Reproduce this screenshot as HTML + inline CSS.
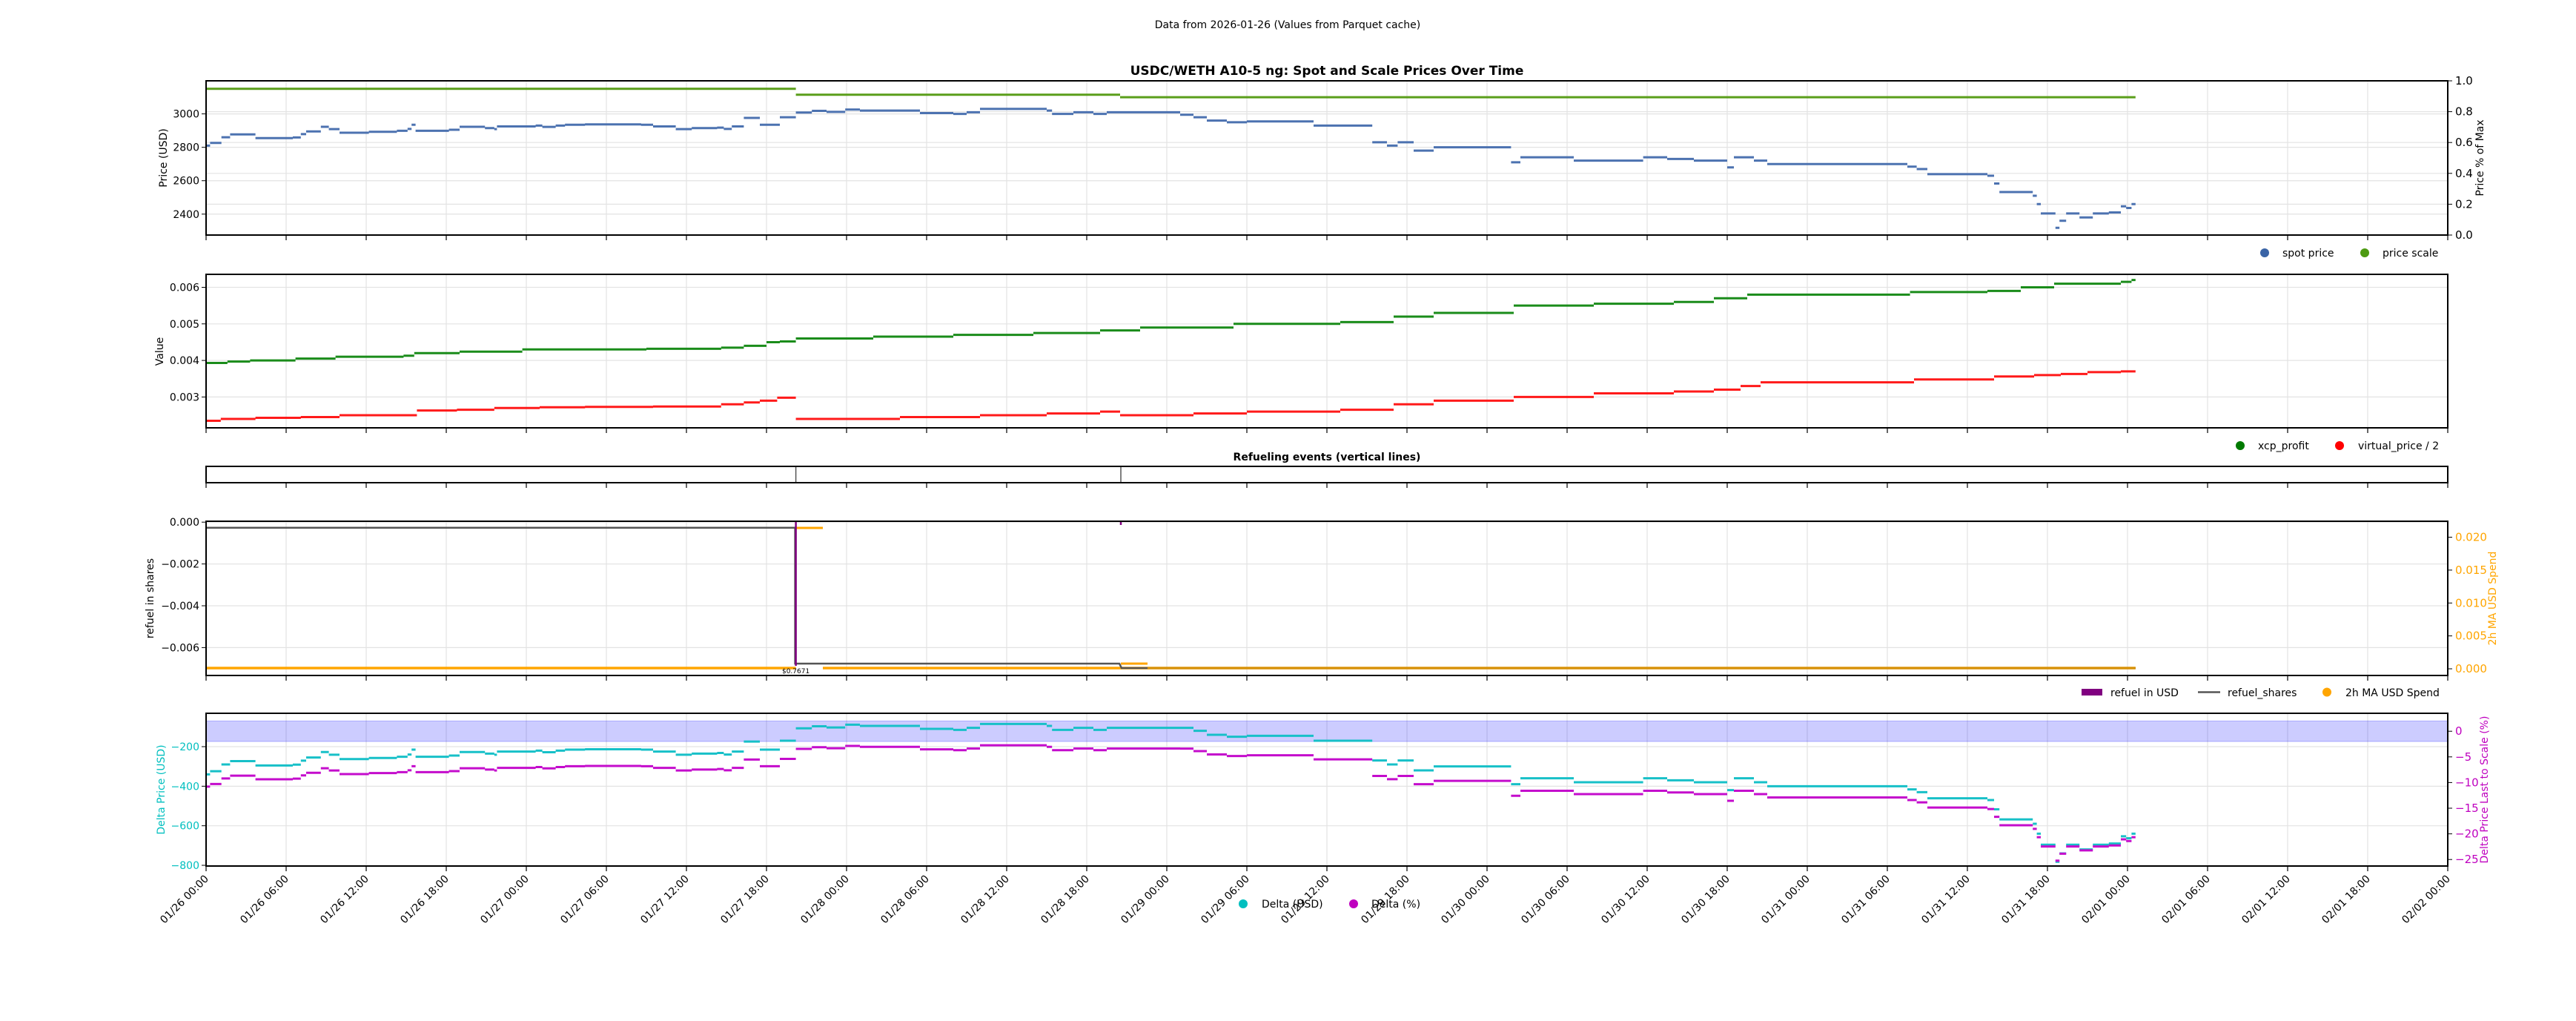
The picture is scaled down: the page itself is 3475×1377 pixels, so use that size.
<!DOCTYPE html>
<html><head><meta charset="utf-8">
<style>
html,body{margin:0;padding:0;background:#fff;}
svg{display:block;font-family:"DejaVu Sans","Liberation Sans",sans-serif;}
</style></head>
<body>
<svg id="s" width="3475" height="1377" viewBox="0 0 3475 1377" xmlns="http://www.w3.org/2000/svg">
<rect width="3475" height="1377" fill="#fff"/>
<text x="1737" y="38" font-size="14" text-anchor="middle">Data from 2026-01-26 (Values from Parquet cache)</text>
<text x="1790" y="101" font-size="17" font-weight="bold" text-anchor="middle">USDC/WETH A10-5 ng: Spot and Scale Prices Over Time</text>
<text x="1790" y="621" font-size="14" font-weight="bold" text-anchor="middle">Refueling events (vertical lines)</text>
<g id="g"></g>
</svg>
<script>
const NS="http://www.w3.org/2000/svg";
const G=document.getElementById('g');
function el(t,a,txt){const e=document.createElementNS(NS,t);for(const k in a)e.setAttribute(k,a[k]);if(txt!==undefined)e.textContent=txt;G.appendChild(e);return e;}
const L=278,R=3302;
const X=h=>L+h*18;
const panels=[[109,317],[370,577],[629,651],[703,911],[962,1168]];
panels.forEach(([t,b],i)=>{
  for(let k=1;k<28;k++){ if(i!==2) el('line',{x1:X(k*6),x2:X(k*6),y1:t,y2:b,stroke:'#e3e3e3','stroke-width':1.2});}
});
function hgrid(y){el('line',{x1:L,x2:R,y1:y,y2:y,stroke:'#e3e3e3','stroke-width':1.2});}
// horizontal segments only (marker-like), no vertical connectors
function step(data,fx,fy,end){let d='';for(let i=0;i<data.length;i++){const x0=fx(data[i][0]),x1=(i+1<data.length?fx(data[i+1][0]):fx(end)),y=fy(data[i][1]);d+=' M'+x0+' '+y+' H'+Math.max(x1,x0+2);}return d;}
// ---------- Panel 1
const yP=v=>153.6+(3000-v)*0.2253;
[3000,2800,2600,2400].forEach(v=>{hgrid(yP(v));el('line',{x1:L-6,x2:L,y1:yP(v),y2:yP(v),stroke:'#000'});el('text',{x:L-9,y:yP(v)+5,'font-size':14,'text-anchor':'end'},String(v));});
const yR1=f=>317-f*208;
[0,0.2,0.4,0.6,0.8,1.0].forEach(f=>{if(f>0&&f<1)hgrid(yR1(f));el('line',{x1:R,x2:R+6,y1:yR1(f),y2:yR1(f),stroke:'#000'});el('text',{x:R+10,y:yR1(f)+5,'font-size':15},f.toFixed(1));});
const spot=[[0,2810],[0.3,2826],[1.15,2860],[1.8,2877],[3.7,2855],[6.5,2859],[7.1,2879],[7.5,2895],[8.6,2923],[9.2,2909],[10,2887],[12.2,2893],[14.3,2899],[15.1,2910],[15.4,2935],[15.7,2899],[18.2,2905],[19,2923],[20.9,2915],[21.6,2909],[21.8,2925],[24.7,2930],[25.2,2922],[26.2,2930],[26.9,2935],[28.4,2937],[32.6,2935],[33.5,2925],[35.2,2909],[36.4,2915],[38.3,2918],[38.8,2910],[39.4,2925],[40.3,2976],[41.5,2935],[43,2980],[44.2,3008],[45.4,3018],[46.5,3012],[47.9,3026],[49,3020],[53.5,3005],[56,3000],[57,3010],[58,3030],[63,3020],[63.4,3000],[65,3010],[66.5,3000],[67.5,3010],[73,2995],[74,2980],[75,2960],[76.5,2950],[78,2955],[83,2930],[87.4,2830],[88.5,2810],[89.3,2830],[90.5,2780],[92,2800],[97.8,2710],[98.5,2740],[102.5,2720],[107.7,2740],[109.5,2730],[111.5,2720],[114,2680],[114.5,2740],[116,2720],[117,2700],[127.5,2684],[128.2,2670],[129,2639],[133.5,2630],[134,2583],[134.4,2532],[136.9,2510],[137.2,2460],[137.5,2404],[138.6,2318],[138.9,2360],[139.4,2404],[140.4,2380],[141.4,2404],[142.6,2410],[143.5,2447],[143.9,2437],[144.3,2460]];
const END=144.6;
el('path',{d:step(spot,X,yP,END),fill:'none',stroke:'#4c72b0','stroke-width':3});
function scaleAt(h){return h<44.2?3150:(h<68.5?3115:3100);}
el('path',{d:`M${L} ${yP(3150)} H${X(44.2)} M${X(44.2)} ${yP(3115)} H${X(68.5)} M${X(68.5)} ${yP(3100)} H${X(END)}`,stroke:'#5a9e1a','stroke-width':3,fill:'none'});
el('circle',{cx:3055,cy:341,r:6,fill:'#3a64a6'});el('text',{x:3079,y:346,'font-size':14},'spot price');
el('circle',{cx:3190,cy:341,r:6,fill:'#4d9a12'});el('text',{x:3214,y:346,'font-size':14},'price scale');
// ---------- Panel 2
const yV=v=>387.5+(0.006-v)*49300;
[0.006,0.005,0.004,0.003].forEach(v=>{hgrid(yV(v));el('line',{x1:L-6,x2:L,y1:yV(v),y2:yV(v),stroke:'#000'});el('text',{x:L-9,y:yV(v)+5,'font-size':14,'text-anchor':'end'},v.toFixed(3));});
const green=[[0,.00393],[1.6,.00397],[3.3,.0040],[6.7,.00405],[9.7,.0041],[14.8,.00413],[15.6,.0042],[19,.00424],[23.7,.0043],[33,.00432],[38.6,.00435],[40.3,.0044],[42,.0045],[43,.00452],[44.2,.0046],[50,.00465],[56,.0047],[62,.00475],[67,.00482],[70,.0049],[77,.005],[85,.00505],[89,.0052],[92,.0053],[98,.0055],[104,.00555],[110,.0056],[113,.0057],[115.5,.0058],[127.7,.00587],[133.5,.0059],[136,.0060],[138.5,.0061],[143.5,.00615],[144.3,.0062]];
const red=[[0,.00235],[1.1,.0024],[3.7,.00243],[7.1,.00245],[10,.0025],[15.8,.00263],[18.8,.00265],[21.6,.0027],[25,.00272],[28.4,.00273],[33.5,.00274],[38.6,.0028],[40.3,.00285],[41.5,.0029],[42.8,.00298],[44.2,.0024],[52,.00245],[58,.0025],[63,.00255],[67,.0026],[68.5,.0025],[74,.00255],[78,.0026],[85,.00265],[89,.0028],[92,.0029],[98,.003],[104,.0031],[110,.00315],[113,.0032],[115,.0033],[116.5,.0034],[128,.00348],[134,.00356],[137,.0036],[139,.00363],[141,.00368],[143.5,.0037]];
el('path',{d:step(green,X,yV,END),fill:'none',stroke:'#1a8c1a','stroke-width':3});
const r1=red.filter(p=>p[0]<44.2),r2=red.filter(p=>p[0]>=44.2);
el('path',{d:step(r1,X,yV,44.2),fill:'none',stroke:'#ff1a1a','stroke-width':3});
el('path',{d:step(r2,X,yV,END),fill:'none',stroke:'#ff1a1a','stroke-width':3});
el('circle',{cx:3022,cy:601,r:6,fill:'#007a00'});el('text',{x:3046,y:606,'font-size':14},'xcp_profit');
el('circle',{cx:3156,cy:601,r:6,fill:'#ff0000'});el('text',{x:3181,y:606,'font-size':14},'virtual_price / 2');
// ---------- Panel 3
el('line',{x1:X(44.2),x2:X(44.2),y1:629,y2:651,stroke:'#555','stroke-width':1.5});
el('line',{x1:1512,x2:1512,y1:629,y2:651,stroke:'#555','stroke-width':1.5});
// ---------- Panel 4
const yS=v=>704.2-v*28200;
[0,-0.002,-0.004,-0.006].forEach(v=>{hgrid(yS(v));el('line',{x1:L-6,x2:L,y1:yS(v),y2:yS(v),stroke:'#000'});el('text',{x:L-9,y:yS(v)+5,'font-size':14,'text-anchor':'end'},(v===0?'0.000':'\u2212'+Math.abs(v).toFixed(3)));});
const yO=v=>902-v*8875;
[0,0.005,0.01,0.015,0.02].forEach(v=>{el('line',{x1:R,x2:R+6,y1:yO(v),y2:yO(v),stroke:'#000'});el('text',{x:R+10,y:yO(v)+5,'font-size':15,fill:'#ffa500'},v.toFixed(3));});
el('path',{d:`M${L} 901 H${X(44.2)} M1110 901 H${X(END)}`,stroke:'#ffa500','stroke-width':3.5,fill:'none'});
el('path',{d:`M${X(44.2)} 712 H1110 M1512 895 H1548`,stroke:'#ffa500','stroke-width':3,fill:'none'});
el('path',{d:`M${L} 711.7 H${X(44.2)-1} V895 H1510 L1513 901 H${X(END)}`,stroke:'#555','stroke-width':2.5,fill:'none'});
el('path',{d:`M1548 901 H${X(END)}`,stroke:'#d4900a','stroke-width':3,fill:'none'});
el('line',{x1:X(44.2),x2:X(44.2),y1:703,y2:898,stroke:'#800080','stroke-width':2.5});
el('line',{x1:1512,x2:1512,y1:703,y2:708,stroke:'#800080','stroke-width':2.5});
el('text',{x:X(44.2),y:908,'font-size':9,'text-anchor':'middle'},'$0.7671');
el('rect',{x:2808,y:929,width:28,height:9,fill:'#800080'});el('text',{x:2847,y:939,'font-size':14},'refuel in USD');
el('line',{x1:2965,x2:2995,y1:933.5,y2:933.5,stroke:'#555','stroke-width':2.5});el('text',{x:3005,y:939,'font-size':14},'refuel_shares');
el('circle',{cx:3139,cy:933.5,r:6,fill:'#ffa500'});el('text',{x:3164,y:939,'font-size':14},'2h MA USD Spend');
// ---------- Panel 5
const yD=d=>1007+(-200-d)*0.2667;
const yPc=p=>986.2-p*6.92;
el('rect',{x:L,y:yPc(2),width:R-L,height:yPc(-2)-yPc(2),fill:'rgba(0,0,255,0.2)',stroke:'rgba(0,0,255,0.25)'});
[-200,-400,-600,-800].forEach(v=>{hgrid(yD(v));el('line',{x1:L-6,x2:L,y1:yD(v),y2:yD(v),stroke:'#000'});el('text',{x:L-9,y:yD(v)+5,'font-size':14,'text-anchor':'end',fill:'#00bfbf'},'\u2212'+Math.abs(v));});
[0,-5,-10,-15,-20,-25].forEach(v=>{el('line',{x1:R,x2:R+6,y1:yPc(v),y2:yPc(v),stroke:'#000'});el('text',{x:R+10,y:yPc(v)+5,'font-size':15,fill:'#bf00bf'},v===0?'0':'\u2212'+Math.abs(v));});
const dU=spot.map(p=>[p[0],p[1]-scaleAt(p[0])]);
const dP=spot.map(p=>[p[0],(p[1]/scaleAt(p[0])-1)*100]);
el('path',{d:step(dU,X,yD,END),fill:'none',stroke:'#17c0c8','stroke-width':3});
el('path',{d:step(dP,X,yPc,END),fill:'none',stroke:'#c40ccc','stroke-width':3});
// frames
panels.forEach(([t,b],i)=>{el('rect',{x:L,y:t,width:R-L,height:b-t,fill:'none',stroke:'#000','stroke-width':2});
  for(let k=0;k<=28;k++){el('line',{x1:X(k*6),x2:X(k*6),y1:b,y2:b+7,stroke:'#000','stroke-width':1.2});}});
const days=['01/26','01/27','01/28','01/29','01/30','01/31','02/01','02/02'];
for(let k=0;k<=28;k++){const d=days[Math.floor(k/4)],hh=['00','06','12','18'][k%4];
  const x=X(k*6)+4,y=1186;el('text',{x:x,y:y,'font-size':14,'text-anchor':'end',transform:`rotate(-45 ${x} ${y})`},d+' '+hh+':00');}
el('circle',{cx:1677,cy:1219,r:6,fill:'#00bfbf'});el('text',{x:1702,y:1224,'font-size':14},'Delta (USD)');
el('circle',{cx:1826,cy:1219,r:6,fill:'#bf00bf'});el('text',{x:1850,y:1224,'font-size':14},'Delta (%)');
function yl(x,y,t,c){el('text',{x:x,y:y,'font-size':14,'text-anchor':'middle',fill:c||'#000',transform:`rotate(-90 ${x} ${y})`},t);}
yl(225,213,'Price (USD)');yl(220,474,'Value');yl(207,807,'refuel in shares');yl(222,1065,'Delta Price (USD)','#00bfbf');
yl(3350,213,'Price % of Max');yl(3367,807,'2h MA USD Spend','#ffa500');yl(3356,1065,'Delta Price Last to Scale (%)','#bf00bf');
</script>
</body></html>
